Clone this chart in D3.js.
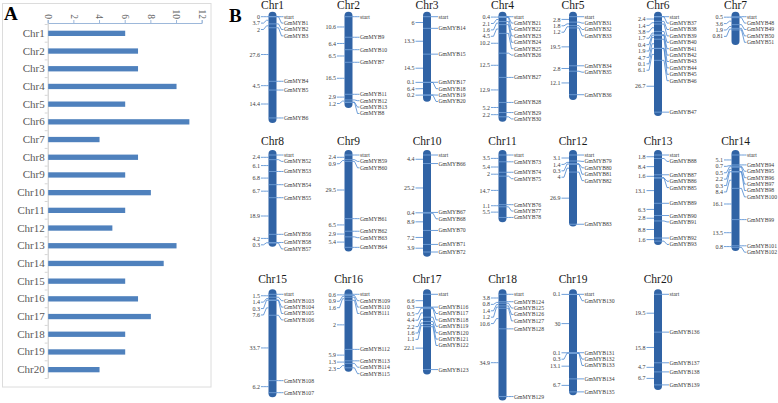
<!DOCTYPE html>
<html>
<head>
<meta charset="utf-8">
<script src="https://cdn.jsdelivr.net/npm/d3@7"></script>
<style>
body { margin: 0; background: #fff; }
svg { display: block; }
text { font-family: "Liberation Serif", "Times New Roman", serif; }
</style>
</head>
<body>
<div id="container"></div>
<script>
// panel A data
var chrNames = ["Chr1","Chr2","Chr3","Chr4","Chr5","Chr6","Chr7","Chr8","Chr9","Chr10",
  "Chr11","Chr12","Chr13","Chr14","Chr15","Chr16","Chr17","Chr18","Chr19","Chr20"]
var mybCounts = [6,7,7,10,6,11,4,7,6,8,6,5,10,9,6,7,8,6,6,4]
var countTicks = [0,2,4,6,8,10,12]

// panel B data: genes in map order, gap (Mb) from previous marker, null = no label
var chr1Genes = ["GmMYB1","GmMYB2","GmMYB3","GmMYB4","GmMYB5","GmMYB6"]
var chr1Gaps = [0,3.7,2,27.6,4.5,14.4]
var chr2Genes = ["GmMYB9","GmMYB10","GmMYB7","GmMYB11","GmMYB12","GmMYB13","GmMYB8"]
var chr2Gaps = [10.6,6.4,6.5,16.5,2.9,1.2,null]
var chr3Genes = ["GmMYB14","GmMYB15","GmMYB17","GmMYB18","GmMYB19","GmMYB20"]
var chr3Gaps = [6,13.3,14.5,0.1,6.4,0.2]
var chr4Genes = ["GmMYB21","GmMYB22","GmMYB23","GmMYB24","GmMYB25","GmMYB26","GmMYB27","GmMYB28","GmMYB29","GmMYB30"]
var chr4Gaps = [null,0.4,2.1,1.6,4.5,10.2,12.5,12.9,5.2,2.2]
var chr5Genes = ["GmMYB31","GmMYB32","GmMYB33","GmMYB34","GmMYB35","GmMYB36"]
var chr5Gaps = [2.8,1.8,1.2,19.5,2.8,12.1]
var chr6Genes = ["GmMYB37","GmMYB38","GmMYB39","GmMYB40","GmMYB41","GmMYB42","GmMYB43","GmMYB44","GmMYB45","GmMYB46","GmMYB47"]
var chr6Gaps = [null,2.4,1.4,3.8,1.7,0.4,1.9,4.7,0.1,6.1,26.7]
var chr7Genes = ["GmMYB48","GmMYB49","GmMYB50","GmMYB51"]
var chr7Gaps = [0.5,3.6,1.9,0.81]
var chr8Genes = ["GmMYB52","GmMYB53","GmMYB54","GmMYB55","GmMYB56","GmMYB58","GmMYB57"]
var chr8Gaps = [2.4,6.1,6.8,6.7,18.9,4.2,0.3]
var chr9Genes = ["GmMYB59","GmMYB60","GmMYB61","GmMYB62","GmMYB63","GmMYB64"]
var chr9Gaps = [2.4,0.9,29.5,6.5,2.9,5.4]
var chr10Genes = ["GmMYB66","GmMYB67","GmMYB68","GmMYB70","GmMYB71","GmMYB72"]
var chr10Gaps = [4.4,25.2,0.4,8.9,7.2,3.9]
var chr11Genes = ["GmMYB73","GmMYB74","GmMYB75","GmMYB76","GmMYB77","GmMYB78"]
var chr11Gaps = [3.5,5.4,2,14.7,1.1,5.5]
var chr12Genes = ["GmMYB79","GmMYB80","GmMYB81","GmMYB82","GmMYB83"]
var chr12Gaps = [3.1,1.4,0.3,4,26.9]
var chr13Genes = ["GmMYB88","GmMYB87","GmMYB86","GmMYB85","GmMYB89","GmMYB90","GmMYB91","GmMYB92","GmMYB93"]
var chr13Gaps = [1.8,8.4,1.6,null,13.1,6.3,2.8,8.8,1.6]
var chr14Genes = ["GmMYB94","GmMYB95","GmMYB96","GmMYB97","GmMYB98","GmMYB100","GmMYB99","GmMYB101","GmMYB102"]
var chr14Gaps = [5.1,0.7,0.5,2.2,0.3,8.4,16.1,13.5,0.8]
var chr15Genes = ["GmMYB103","GmMYB104","GmMYB105","GmMYB106","GmMYB108","GmMYB107"]
var chr15Gaps = [1.5,1.4,0.3,7.6,33.7,6.2]
var chr16Genes = ["GmMYB109","GmMYB110","GmMYB111","GmMYB112","GmMYB113","GmMYB114","GmMYB115"]
var chr16Gaps = [0.6,0.9,1.6,25.3,5.9,1.3,2.3]
var chr16Labels = ["0.6","0.9","1.6","2","5.9","1.3","2.3"]  // printed as in the figure
var chr17Genes = ["GmMYB116","GmMYB117","GmMYB118","GmMYB119","GmMYB120","GmMYB121","GmMYB122","GmMYB123"]
var chr17Gaps = [6.6,0.3,0.5,4.4,2.2,1.6,1.1,22.1]
var chr18Genes = ["GmMYB124","GmMYB125","GmMYB126","GmMYB127","GmMYB128","GmMYB129"]
var chr18Gaps = [3.8,0.8,1.4,1.2,10.6,34.9]
var chr19Genes = ["GmMYB130","GmMYB131","GmMYB132","GmMYB133","GmMYB134","GmMYB135"]
var chr19Gaps = [0.1,30,0.1,0.3,13.1,6.7]
var chr20Genes = ["GmMYB136","GmMYB137","GmMYB138","GmMYB139"]
var chr20Gaps = [19.5,15.8,4.7,6.7]
var chrLengths = [54.8,47.1,43.8,54.1,42.9,51.2,14.6,47.3,49.8,52.4,34.7,36.9,46.4,49.5,53.1,39.9,41.3,54.7,52,49.3]

var allGenes = [chr1Genes,chr2Genes,chr3Genes,chr4Genes,chr5Genes,chr6Genes,chr7Genes,chr8Genes,chr9Genes,chr10Genes,
  chr11Genes,chr12Genes,chr13Genes,chr14Genes,chr15Genes,chr16Genes,chr17Genes,chr18Genes,chr19Genes,chr20Genes]
var allGaps = [chr1Gaps,chr2Gaps,chr3Gaps,chr4Gaps,chr5Gaps,chr6Gaps,chr7Gaps,chr8Gaps,chr9Gaps,chr10Gaps,
  chr11Gaps,chr12Gaps,chr13Gaps,chr14Gaps,chr15Gaps,chr16Gaps,chr17Gaps,chr18Gaps,chr19Gaps,chr20Gaps]

var chroms = chrNames.map(function(n, i) {
  return {
    name: n, genes: allGenes[i], gaps: allGaps[i], len: chrLengths[i],
    labels: i == 15 ? chr16Labels : allGaps[i].map(function(v){ return v == null ? null : String(v) })
  }
})

var ancho = 778, alto = 403
var svg = d3.select("#container").append("svg")
  .attr("width", ancho)
  .attr("height", alto)

// ---------- panel A ----------
svg.append("rect")
  .attr("x", 2.5).attr("y", 3.5)
  .attr("width", 208.5).attr("height", 383.5)
  .attr("fill", "none").attr("stroke", "#dcdcdc")

var escalaX = d3.scaleLinear().domain([0, 12]).range([47.7, 201.7])
var escalaY = d3.scaleBand().domain(chrNames).range([24.5, 378.5])
  .paddingInner(0.7).paddingOuter(0.35)

var ejeX = svg.append("g")
  .attr("transform", "translate(0,23)")
  .call(d3.axisTop(escalaX).tickValues(countTicks).tickSize(3).tickFormat(d3.format("d")))
ejeX.select(".domain").attr("stroke", "#9db8da")
ejeX.selectAll(".tick line").attr("stroke", "#9db8da")
ejeX.selectAll(".tick text")
  .attr("x", 0).attr("y", 0).attr("dy", "0.35em")
  .attr("transform", "translate(0,-4) rotate(90)")
  .attr("text-anchor", "end")
  .attr("font-size", 9.5)
  .attr("font-family", "Liberation Serif, serif")
  .attr("fill", "#666")

var ejeY = svg.append("g")
  .attr("transform", "translate(" + escalaX(0) + ",0)")
  .call(d3.axisLeft(escalaY).tickSize(0).tickPadding(3))
ejeY.select(".domain").attr("stroke", "#c8c8c8").attr("d", "M0.5,23V378.5")
ejeY.selectAll(".tick text")
  .attr("font-size", 11)
  .attr("font-family", "Liberation Serif, serif")
  .attr("fill", "#595959")
// little category separators
svg.append("g").selectAll("line")
  .data(chrNames.concat(["end"]))
  .enter().append("line")
  .attr("x1", escalaX(0) - 3).attr("x2", escalaX(0))
  .attr("y1", function(d, i){ return 24.5 + i * escalaY.step() })
  .attr("y2", function(d, i){ return 24.5 + i * escalaY.step() })
  .attr("stroke", "#d5d5d5")

svg.append("g").selectAll("rect")
  .data(chrNames)
  .enter().append("rect")
  .attr("x", escalaX(0) + 0.5)
  .attr("y", function(d){ return escalaY(d) })
  .attr("width", function(d, i){ return escalaX(mybCounts[i]) - escalaX(0) })
  .attr("height", escalaY.bandwidth())
  .attr("fill", "#4f81bd")

svg.append("text").attr("x", 4).attr("y", 20)
  .attr("font-size", 19).attr("font-weight", "bold").text("A")
svg.append("text").attr("x", 229).attr("y", 22)
  .attr("font-size", 19).attr("font-weight", "bold").text("B")

// ---------- panel B ----------
var colX = [272.5, 348.5, 427, 502.5, 573, 658, 735.5]
var rowStart = [16.7, 155, 294.3]
var rowTitle = [9, 145, 282.7]
var pxPerMb = 1.94
var sep = 6.4

function spread(ys) {
  var out = []
  ys.forEach(function(v, i){ out.push(i ? Math.max(v, out[i-1] + sep) : v) })
  return out
}

chroms.forEach(function(c, i) {
  var row = Math.floor(i / 7), col = i % 7
  var cx = colX[col], xl = cx - 4, xr = cx + 4
  var y = d3.scaleLinear().domain([0, 60]).range([rowStart[row], rowStart[row] + 60 * pxPerMb])
  var pos = [0].concat(Array.from(d3.cumsum(c.gaps, function(v){ return v || 0 })))
  var names = ["start"].concat(c.genes)
  var g = svg.append("g")

  g.append("text")
    .attr("x", cx).attr("y", rowTitle[row])
    .attr("text-anchor", "middle").attr("font-size", 11.5).attr("fill", "#1a1a1a")
    .text(c.name)

  g.append("rect")
    .attr("x", xl).attr("y", y(0) - 5)
    .attr("width", 8).attr("height", y(c.len) - y(0) + 5)
    .attr("rx", 4).attr("fill", "#3063a5")

  // right side: markers and gene names
  var my = pos.map(function(p){ return y(p) })
  var ly = spread(my)
  var marks = names.map(function(n, j){ return { n: n, m: my[j], l: ly[j] } })
  g.selectAll("line.mk").data(marks).enter().append("line")
    .attr("class", "mk")
    .attr("x1", xl).attr("x2", xr)
    .attr("y1", function(d){ return d.m }).attr("y2", function(d){ return d.m })
    .attr("stroke", "#79a6dc").attr("stroke-width", 0.8)
  g.selectAll("path.rc").data(marks).enter().append("path")
    .attr("class", "rc")
    .attr("d", function(d){
      return "M" + xr + "," + d.m + "H" + (xr + 2) + "L" + (xr + 5) + "," + d.l + "H" + (xr + 7)
    })
    .attr("fill", "none").attr("stroke", "#4a86cf").attr("stroke-width", 0.8)
  g.selectAll("text.gn").data(marks).enter().append("text")
    .attr("class", "gn")
    .attr("x", xr + 7.5).attr("y", function(d){ return d.l }).attr("dy", "0.35em")
    .attr("font-size", 5.7).attr("fill", "#3a3a3a")
    .text(function(d){ return d.n })

  // left side: interval lengths
  var gaps = []
  c.gaps.forEach(function(v, j){
    if (v != null) gaps.push({ t: c.labels[j], m: (my[j] + my[j + 1]) / 2 })
  })
  var gy = spread(gaps.map(function(d){ return d.m }))
  gaps.forEach(function(d, j){ d.l = gy[j] })
  g.selectAll("path.lc").data(gaps).enter().append("path")
    .attr("class", "lc")
    .attr("d", function(d){
      return "M" + xl + "," + d.m + "H" + (xl - 2) + "L" + (xl - 5) + "," + d.l + "H" + (xl - 7.5)
    })
    .attr("fill", "none").attr("stroke", "#4a86cf").attr("stroke-width", 0.8)
  g.selectAll("text.gp").data(gaps).enter().append("text")
    .attr("class", "gp")
    .attr("x", xl - 8.5).attr("y", function(d){ return d.l }).attr("dy", "0.35em")
    .attr("text-anchor", "end").attr("font-size", 6).attr("fill", "#3a3a3a")
    .text(function(d){ return d.t })
})
</script>
</body>
</html>
